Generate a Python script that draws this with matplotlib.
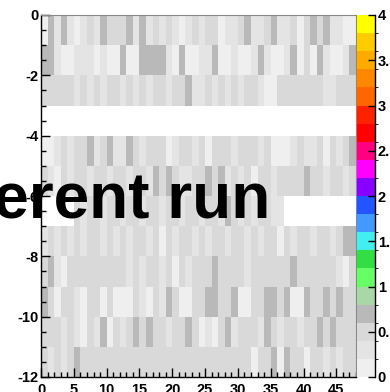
import numpy as np
import matplotlib
matplotlib.use("Agg")
import matplotlib.pyplot as plt
from matplotlib.colors import ListedColormap, BoundaryNorm
from matplotlib.ticker import MultipleLocator

plt.rcParams['font.family'] = ['Liberation Sans', 'DejaVu Sans']
plt.rcParams['axes.unicode_minus'] = False

# ---- data: cell values per row (row 0 = y in [-1, 0], ... row 11 = y in [-12, -11]); 0 = empty
row_0 = [0.1,0.7,0.3,0.7,0.3,0.1,0.3,0.5,0.3,0.7,0.5,0.5,0.5,0.7,0.3,0.7,0.3,0.5,0.3,0.5,0.3,0.1,0.3,0.5,
         0.3,0.5,0.5,0.1,0.3,0.3,0.5,0.7,0.3,0.3,0.5,0.7,0.3,0.3,0.5,0.1,0.5,0.7,0.5,0.7,0.3,0.3,0.1,0.1]
row_1 = [0.7,0.7,0.3,0.1,0.1,0.3,0.3,0.3,0.1,0.3,0.1,0.1,0.7,0.1,0.1,0.7,0.7,0.7,0.7,0.3,0.1,0.7,0.1,0.1,
         0.3,0.3,0.7,0.1,0.1,0.3,0.1,0.1,0.3,0.7,0.3,0.1,0.1,0.3,0.7,0.1,0.5,0.1,0.7,0.3,0.1,0.1,0.3,0.7]
row_2 = [0.5,0.5,0.5,0.5,0.5,0.3,0.5,0.3,0.5,0.3,0.5,0.5,0.3,0.5,0.3,0.5,0.3,0.5,0.5,0.3,0.5,0.5,0.7,0.3,
         0.3,0.5,0.3,0.5,0.3,0.5,0.3,0.5,0.5,0.3,0.1,0.1,0.5,0.5,0.5,0.5,0.5,0.5,0.5,0.3,0.3,0.5,0.5,0.5]
row_3 = [0.0] * 48
row_4 = [0.1,0.1,0.3,0.5,0.3,0.5,0.5,0.7,0.3,0.5,0.7,0.3,0.3,0.7,0.5,0.3,0.5,0.5,0.5,0.1,0.3,0.5,0.5,0.3,
         0.5,0.1,0.5,0.5,0.5,0.3,0.5,0.5,0.5,0.3,0.5,0.1,0.1,0.1,0.3,0.5,0.3,0.3,0.5,0.1,0.5,0.3,0.5,0.7]
row_5 = [0.5,0.3,0.1,0.5,0.3,0.5,0.5,0.3,0.5,0.5,0.3,0.5,0.5,0.3,0.5,0.5,0.3,0.7,0.5,0.7,0.5,0.3,0.3,0.5,
         0.5,0.7,0.5,0.7,0.3,0.5,0.3,0.5,0.1,0.5,0.5,0.3,0.5,0.5,0.5,0.5,0.7,0.5,0.5,0.3,0.5,0.5,0.3,0.5]
row_6 = [0.0,0.0,0.0,0.0,0.0,0.5,0.3,0.5,0.5,0.3,0.5,0.5,0.3,0.5,0.5,0.3,0.5,0.5,0.3,0.5,0.5,0.3,0.5,0.5,
         0.3,0.5,0.5,0.3,0.7,0.5,0.3,0.5,0.3,0.5,0.5,0.3,0.3,0.0,0.0,0.0,0.0,0.0,0.0,0.0,0.0,0.0,0.0,0.0]
row_7 = [0.3,0.5,0.3,0.5,0.3,0.5,0.3,0.5,0.5,0.3,0.5,0.3,0.5,0.3,0.5,0.5,0.3,0.5,0.1,0.5,0.3,0.5,0.5,0.3,
         0.5,0.3,0.5,0.5,0.3,0.5,0.5,0.3,0.5,0.3,0.5,0.5,0.1,0.5,0.3,0.5,0.5,0.3,0.5,0.5,0.3,0.5,0.7,0.7]
row_8 = [0.5,0.7,0.3,0.1,0.5,0.5,0.5,0.5,0.5,0.5,0.5,0.5,0.5,0.3,0.5,0.3,0.5,0.5,0.3,0.5,0.1,0.5,0.3,0.5,
         0.5,0.5,0.7,0.5,0.5,0.5,0.5,0.3,0.5,0.5,0.5,0.5,0.5,0.5,0.7,0.5,0.5,0.5,0.5,0.5,0.5,0.3,0.1,0.5]
row_9 = [0.7,0.5,0.1,0.5,0.5,0.3,0.1,0.5,0.5,0.1,0.5,0.1,0.1,0.1,0.5,0.3,0.1,0.5,0.3,0.7,0.5,0.1,0.1,0.5,
         0.5,0.7,0.7,0.5,0.5,0.7,0.1,0.1,0.5,0.5,0.7,0.7,0.5,0.7,0.1,0.1,0.7,0.5,0.5,0.7,0.5,0.7,0.5,0.5]
row_10 = [0.5,0.5,0.5,0.3,0.5,0.3,0.1,0.5,0.3,0.7,0.1,0.5,0.3,0.5,0.7,0.5,0.7,0.5,0.5,0.3,0.5,0.5,0.7,0.5,
          0.1,0.3,0.1,0.5,0.7,0.3,0.5,0.5,0.5,0.3,0.7,0.5,0.3,0.5,0.5,0.3,0.5,0.5,0.7,0.5,0.7,0.5,0.5,0.5]
row_11 = [0.5,0.3,0.5,0.3,0.5,0.7,0.5,0.5,0.5,0.5,0.5,0.5,0.5,0.5,0.5,0.5,0.5,0.5,0.5,0.5,0.5,0.5,0.5,0.5,
          0.5,0.5,0.5,0.5,0.5,0.5,0.5,0.5,0.1,0.5,0.5,0.7,0.1,0.7,0.5,0.5,0.1,0.5,0.5,0.3,0.5,0.3,0.5,0.5]

rows = [row_0, row_1, row_2, row_3, row_4, row_5, row_6, row_7, row_8, row_9, row_10, row_11]
x_edges = np.arange(0, 49)
y_edges = np.arange(-12, 1)
x_ticks = [0, 5, 10, 15, 20, 25, 30, 35, 40, 45]
y_ticks = [0, -2, -4, -6, -8, -10, -12]
cbar_ticks = [0, 0.5, 1, 1.5, 2, 2.5, 3, 3.5, 4]
cbar_labels = ['0', '0.5', '1', '1.5', '2', '2.5', '3', '3.5', '4']
overlay_text = "Different run"

palette = ['#efefef', '#e4e4e4', '#d9d9d9', '#b9b9b9', '#a8d8a8', '#66ff66', '#33dd44',
           '#44eeee', '#4499ff', '#2255ff', '#8800ff', '#ff00ff', '#ff0080', '#ff0000',
           '#ff2200', '#ff6600', '#ff8800', '#ffaa00', '#ffcc00', '#ffff00']
levels = np.linspace(0, 4, 21)

Z = np.array(rows[::-1])
Zm = np.ma.masked_less_equal(Z, 0)

W, H = 390, 392
fig = plt.figure(figsize=(W / 100, H / 100), dpi=100)
ax = fig.add_axes([41 / W, 1 - 377 / H, 315 / W, 362 / H])

cmap = ListedColormap(palette)
norm = BoundaryNorm(levels, cmap.N)
mesh = ax.pcolormesh(x_edges, y_edges, Zm, cmap=cmap, norm=norm, shading='flat')

ax.set_xlim(0, 48)
ax.set_ylim(-12, 0)
ax.set_xticks(x_ticks)
ax.set_yticks(y_ticks)
ax.xaxis.set_minor_locator(MultipleLocator(1))
ax.yaxis.set_minor_locator(MultipleLocator(0.5))
ax.tick_params(which='both', direction='in', top=False, right=False, width=1, color='black')
ax.tick_params(which='major', length=6.8, labelsize=10.5)
ax.tick_params(which='minor', length=3.4)
ax.tick_params(axis='x', which='major', pad=4)
ax.tick_params(axis='y', which='major', pad=2)
for lab in ax.get_xticklabels() + ax.get_yticklabels():
    lab.set_fontweight('bold')
ax.spines['left'].set_linewidth(1.0)
ax.spines['bottom'].set_linewidth(1.0)
for s in ('top', 'right'):
    ax.spines[s].set_color('#888888')
    ax.spines[s].set_linewidth(0.8)

cax = fig.add_axes([357 / W, 1 - 377 / H, 18 / W, 362 / H])
cb = fig.colorbar(mesh, cax=cax, boundaries=levels, ticks=cbar_ticks)
cb.outline.set_visible(False)
cax.set_yticklabels(cbar_labels)
cax.tick_params(direction='in', length=5, width=1, labelsize=10.5, pad=2, right=True, left=False)
for lab in cax.get_yticklabels():
    lab.set_fontweight('bold')
cax.plot([1, 1], [0, 1], transform=cax.transAxes, color='black', lw=1, clip_on=False)

fig.text(270 / W, 1 - 218 / H, overlay_text, ha='right', va='baseline',
         fontsize=46, fontweight='bold', color='black')

fig.savefig('out.png', dpi=100)
